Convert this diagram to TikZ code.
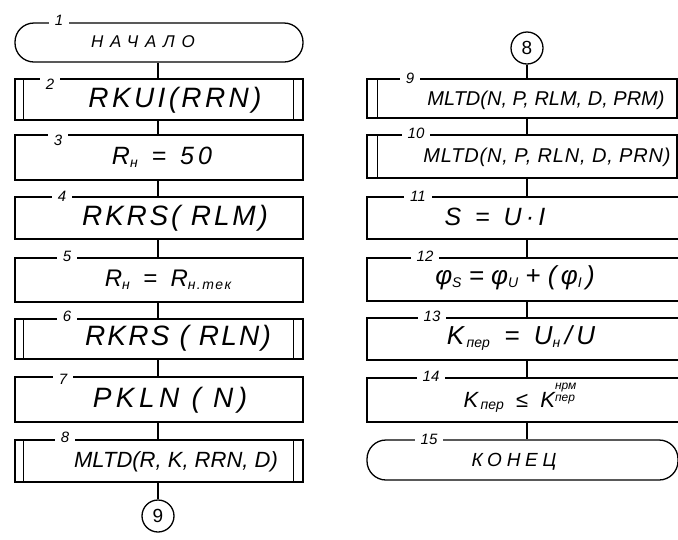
\documentclass[tikz,border=0pt]{standalone}
\usepackage{fontspec}
\setmainfont{Liberation Sans}
\newcommand\fsz[1]{\fontsize{#1}{#1}\selectfont}
\newcommand\lsp[1]{\addfontfeatures{LetterSpace=#1}}
\newcommand\sbx[1]{\raisebox{-0.12em}{\fsz{14}#1}}
\begin{document}
\begin{tikzpicture}[x=1pt,y=-1pt,line width=1.3pt,
  boxL/.style={draw,minimum width=288pt,inner sep=0pt},
  boxR/.style={draw,minimum width=310pt,inner sep=0pt},
  term/.style={rounded corners=19pt},
  num/.style={fill=white,inner xsep=6pt,inner ysep=1pt,font=\itshape\fsz{15}},
  txt/.style={inner sep=0pt,font=\itshape},
  conn/.style={draw,circle,minimum size=32pt,inner sep=0pt,font=\fsz{19}}]
\useasboundingbox (0,0) rectangle (678,539);
\clip (0,0) rectangle (678,539);
\coordinate (cxL) at (158,0);
\coordinate (cxR) at (527,0);
% left column
\node[boxL,term,minimum height=39pt] (b1) at (159,42.5) {};
\node[boxL,minimum height=41pt] (b2) at (159,99.5) {};
\node[boxL,minimum height=45pt] (b3) at (159,157.5) {};
\node[boxL,minimum height=42pt] (b4) at (159,218) {};
\node[boxL,minimum height=44pt] (b5) at (159,280) {};
\node[boxL,minimum height=40pt] (b6) at (159,339) {};
\node[boxL,minimum height=45pt] (b7) at (159,399.5) {};
\node[boxL,minimum height=42pt] (b8) at (159,461) {};
\node[conn] (c9) at (158,516) {9};
% right column
\node[conn] (c8) at (527,48) {8};
\node[boxR,minimum height=39pt] (b9) at (522,98.5) {};
\node[boxR,minimum height=43pt] (b10) at (522,156.5) {};
\node[boxR,minimum width=323pt,minimum height=42pt] (b11) at (528.5,218) {};
\node[boxR,minimum width=323pt,minimum height=43pt] (b12) at (528.5,279.5) {};
\node[boxR,minimum width=323pt,minimum height=42pt] (b13) at (528.5,339) {};
\node[boxR,minimum width=323pt,minimum height=44pt] (b14) at (528.5,400) {};
\node[boxR,term,minimum width=311pt,minimum height=40pt] (b15) at (522.5,460) {};
% predefined-process side lines
\foreach \b in {b2,b6,b8}{
  \draw ([xshift=9pt]\b.north west) -- ([xshift=9pt]\b.south west);
  \draw ([xshift=-10pt]\b.north east) -- ([xshift=-10pt]\b.south east);
}
\foreach \b in {b9,b10}{
  \draw ([xshift=11pt]\b.north west) -- ([xshift=11pt]\b.south west);
}
% numbers
\node[num] (n1) at (59,20) {1};
\node[num] (n2) at (50,84) {2};
\node[num] (n3) at (58,140) {3};
\node[num] (n4) at (62,196) {4};
\node[num] (n5) at (67,256) {5};
\node[num] (n6) at (67,316) {6};
\node[num] (n7) at (63,379) {7};
\node[num] (n8) at (65,437) {8};
\node[num] (n9) at (410,78) {9};
\node[num] (n10) at (416,133) {10};
\node[num] (n11) at (418,196) {11};
\node[num] (n12) at (425,256) {12};
\node[num] (n13) at (432,316) {13};
\node[num] (n14) at (431,376) {14};
\node[num] (n15) at (429,439) {15};
% texts
\node[txt,font=\itshape\fsz{17}\lsp{40}] (t1) at (143,42) {НАЧАЛО};
\node[txt,font=\itshape\fsz{28}\lsp{12}] (t2) at (175,100) {RKUI(RRN)};
\node[txt,font=\itshape\fsz{25}] (t3) at (162,157) {R\sbx{н}\;\;=\;\;5\,0};
\node[txt,font=\itshape\fsz{28}\lsp{10}] (t4) at (175,218) {RKRS( RLM)};
\node[txt,font=\itshape\fsz{24}] (t5) at (168,280) {R\sbx{н}\;\;=\;\;R\sbx{\lsp{10}н.тек}};
\node[txt,font=\itshape\fsz{28}\lsp{8}] (t6) at (178,338) {RKRS ( RLN)};
\node[txt,font=\itshape\fsz{28}\lsp{16}] (t7) at (170,400) {PKLN ( N)};
\node[txt,font=\itshape\fsz{22}] (t8) at (176,462) {MLTD(R, K, RRN, D)};
\node[txt,font=\itshape\fsz{20}] (t9) at (546,100) {MLTD(N, P, RLM, D, PRM)};
\node[txt,font=\itshape\fsz{20}\lsp{4}] (t10) at (547,157) {MLTD(N, P, RLN, D, PRN)};
\node[txt,font=\itshape\fsz{25}] (t11) at (495,217) {S\;\;=\;\;U\,·\,I};
\node[txt,font=\itshape\fsz{26}] (t12) at (515,278) {φ\sbx{S}\;=\;φ\sbx{U}\;+\;(\,φ\sbx{I}\,)};
\node[txt,font=\itshape\fsz{26}] (t13) at (521,338) {K\sbx{\,пер}\;\;=\;\;U\sbx{н}\,/\,U};
\node[txt,font=\itshape\fsz{22}] (t14) at (520,398) {K\sbx{\,пер}\;\;≤\;\;K\raisebox{0.25em}{\fsz{12}\shortstack[l]{нрм\\пер}}};
\node[txt,font=\itshape\fsz{19}\lsp{25}] (t15) at (514,462) {КОНЕЦ};
% connectors
\draw (b1.south -| cxL) -- (b2.north -| cxL);
\draw (b2.south -| cxL) -- (b3.north -| cxL);
\draw (b3.south -| cxL) -- (b4.north -| cxL);
\draw (b4.south -| cxL) -- (b5.north -| cxL);
\draw (b5.south -| cxL) -- (b6.north -| cxL);
\draw (b6.south -| cxL) -- (b7.north -| cxL);
\draw (b7.south -| cxL) -- (b8.north -| cxL);
\draw (b8.south -| cxL) -- (c9.north);
\draw (c8.south) -- (b9.north -| cxR);
\draw (b9.south -| cxR) -- (b10.north -| cxR);
\draw (b10.south -| cxR) -- (b11.north -| cxR);
\draw (b11.south -| cxR) -- (b12.north -| cxR);
\draw (b12.south -| cxR) -- (b13.north -| cxR);
\draw (b13.south -| cxR) -- (b14.north -| cxR);
\draw (b14.south -| cxR) -- (b15.north -| cxR);
\end{tikzpicture}
\end{document}
